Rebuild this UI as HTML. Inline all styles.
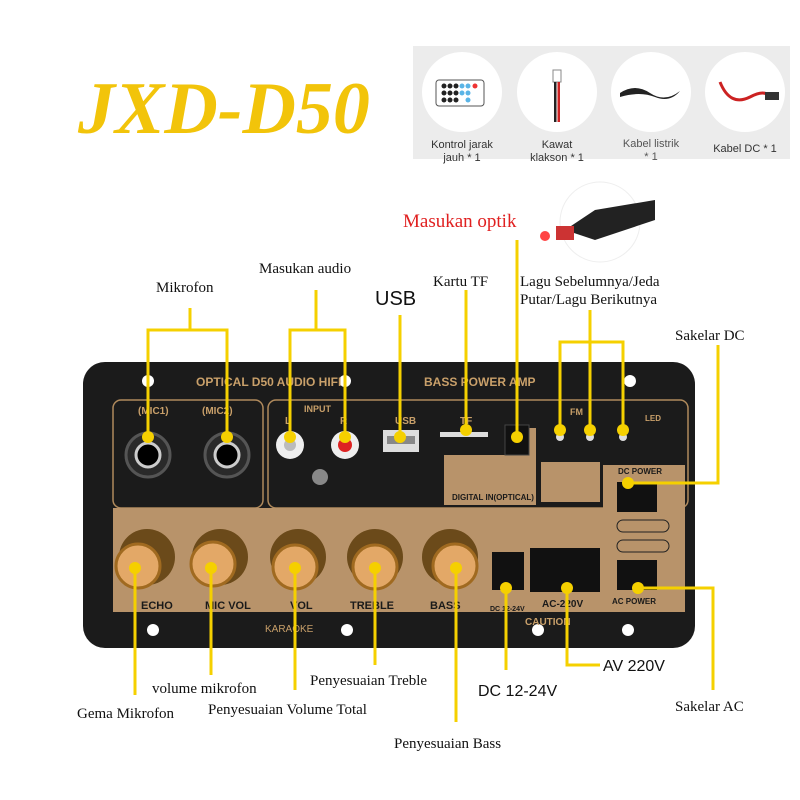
<!DOCTYPE html>
<html><head><meta charset="utf-8"><style>
body{margin:0;width:800px;height:800px;background:#fff;overflow:hidden;font-family:"Liberation Serif",serif}
svg{position:absolute;left:0;top:0}
</style></head><body>
<svg width="800" height="800" viewBox="0 0 800 800" xmlns="http://www.w3.org/2000/svg">
<text x="78" y="133" font-family="Liberation Serif" font-style="italic" font-weight="bold" font-size="74" fill="#f2c40a">JXD-D50</text>
<rect x="413" y="46" width="377" height="113" fill="#ececec"/>
<circle cx="462" cy="92" r="40" fill="#fff"/><circle cx="557" cy="92" r="40" fill="#fff"/><circle cx="651" cy="92" r="40" fill="#fff"/><circle cx="745" cy="92" r="40" fill="#fff"/>
<rect x="436" y="80" width="48" height="26" rx="3" fill="#fff" stroke="#555"/>
<g fill="#222"><circle cx="444" cy="86" r="2.5"/><circle cx="450" cy="86" r="2.5"/><circle cx="456" cy="86" r="2.5"/><circle cx="444" cy="93" r="2.5"/><circle cx="450" cy="93" r="2.5"/><circle cx="456" cy="93" r="2.5"/><circle cx="444" cy="100" r="2.5"/><circle cx="450" cy="100" r="2.5"/><circle cx="456" cy="100" r="2.5"/></g>
<g fill="#5ab4e6"><circle cx="462" cy="86" r="2.5"/><circle cx="468" cy="86" r="2.5"/><circle cx="462" cy="93" r="2.5"/><circle cx="468" cy="93" r="2.5"/><circle cx="468" cy="100" r="2.5"/></g>
<g fill="#e33"><circle cx="475" cy="86" r="2.5"/></g>
<rect x="553" y="70" width="8" height="12" fill="#fff" stroke="#888"/><rect x="554" y="82" width="2.5" height="40" fill="#222"/><rect x="557.5" y="82" width="2.5" height="40" fill="#c22"/>
<path d="M620 93 q15 -10 30 0 q15 10 30 -2 q-10 12 -25 6 q-15 -6 -35 0z" fill="#222"/>
<path d="M720 82 q10 25 30 15 q15 -8 20 0" stroke="#c22" stroke-width="3" fill="none"/><rect x="765" y="92" width="14" height="8" fill="#333"/>
<g font-family="Liberation Sans" font-size="11" fill="#333" text-anchor="middle">
<text x="462" y="148">Kontrol jarak</text><text x="462" y="161">jauh * 1</text>
<text x="557" y="148">Kawat</text><text x="557" y="161">klakson * 1</text>
<text x="651" y="147" fill="#555">Kabel listrik</text><text x="651" y="160" fill="#555">* 1</text>
<text x="745" y="152">Kabel DC * 1</text></g>
<circle cx="600" cy="222" r="40" fill="#fff" stroke="#eee"/>
<path d="M565 230 l30 -20 l60 -10 l0 20 l-60 20z" fill="#222"/>
<rect x="556" y="226" width="18" height="14" fill="#c33"/>
<circle cx="545" cy="236" r="5" fill="#f44"/>
<text x="403" y="227" font-size="19" fill="#e02020">Masukan optik</text>
<rect x="83" y="362" width="612" height="286" rx="22" fill="#1b1b1b"/>
<rect x="113" y="400" width="150" height="108" rx="8" fill="#1b1b1b" stroke="#b08a5c" stroke-width="1.5"/>
<rect x="268" y="400" width="420" height="108" rx="8" fill="#1b1b1b" stroke="#b08a5c" stroke-width="1.5"/>
<path d="M113 508 H487 V612 H113Z" fill="#b8936a"/>
<path d="M487 508 H603 V465 H685 V612 H487Z" fill="#b8936a"/>
<path d="M444 455 H515 V428 H536 V505 H444Z" fill="#b8936a"/>
<rect x="541" y="462" width="59" height="40" fill="#b8936a"/>
<g fill="#fff"><circle cx="148" cy="381" r="6"/><circle cx="345" cy="381" r="6"/><circle cx="630" cy="381" r="6"/><circle cx="153" cy="630" r="6"/><circle cx="347" cy="630" r="6"/><circle cx="538" cy="630" r="6"/><circle cx="628" cy="630" r="6"/></g>
<g font-family="Liberation Sans" font-weight="bold" fill="#c9a06a" font-size="12">
<text x="196" y="386">OPTICAL D50 AUDIO HIFI</text><text x="424" y="386">BASS POWER AMP</text>
<text x="138" y="414" font-size="10">(MIC1)</text><text x="202" y="414" font-size="10">(MIC2)</text>
<text x="304" y="412" font-size="9">INPUT</text><text x="285" y="424" font-size="10">L</text><text x="340" y="424" font-size="10">R</text>
<text x="395" y="424" font-size="10">USB</text><text x="460" y="424" font-size="10">TF</text>
<text x="570" y="415" font-size="9">FM</text><text x="645" y="421" font-size="8">LED</text></g>
<g font-family="Liberation Sans" font-weight="bold" fill="#1a1a1a" font-size="11">
<text x="141" y="609">ECHO</text><text x="205" y="609">MIC VOL</text><text x="290" y="609">VOL</text><text x="350" y="609">TREBLE</text><text x="430" y="609">BASS</text>
<text x="542" y="607" font-size="10">AC-220V</text><text x="612" y="604" font-size="8">AC POWER</text><text x="618" y="474" font-size="8">DC POWER</text>
<text x="452" y="500" font-size="8">DIGITAL IN(OPTICAL)</text><text x="490" y="611" font-size="7">DC 12-24V</text>
<text x="525" y="625" font-size="10" fill="#c9a06a">CAUTION</text></g>
<text x="265" y="632" font-family="Liberation Sans" font-size="10" fill="#c9a06a">KARAOKE</text>
<circle cx="148" cy="455" r="22" fill="#2a2a2a" stroke="#555" stroke-width="3"/><circle cx="148" cy="455" r="12" fill="#000" stroke="#ccc" stroke-width="3"/>
<circle cx="227" cy="455" r="22" fill="#2a2a2a" stroke="#555" stroke-width="3"/><circle cx="227" cy="455" r="12" fill="#000" stroke="#ccc" stroke-width="3"/>
<circle cx="290" cy="445" r="14" fill="#eee"/><circle cx="290" cy="445" r="6" fill="#bbb"/>
<circle cx="345" cy="445" r="14" fill="#eee"/><circle cx="345" cy="445" r="7" fill="#d22"/>
<circle cx="320" cy="477" r="8" fill="#888"/>
<rect x="383" y="430" width="36" height="22" fill="#ddd"/><rect x="387" y="436" width="28" height="8" fill="#888"/>
<rect x="440" y="432" width="48" height="5" fill="#ddd"/>
<rect x="505" y="425" width="24" height="30" fill="#111" stroke="#444"/>
<rect x="617" y="482" width="40" height="30" fill="#111"/><rect x="617" y="560" width="40" height="30" fill="#111"/>
<rect x="492" y="552" width="32" height="38" fill="#111"/><rect x="530" y="548" width="70" height="44" fill="#111"/>
<rect x="617" y="520" width="52" height="12" rx="6" fill="none" stroke="#222"/><rect x="617" y="540" width="52" height="12" rx="6" fill="none" stroke="#222"/>
<g fill="#ddd"><circle cx="560" cy="437" r="4"/><circle cx="590" cy="437" r="4"/><circle cx="623" cy="437" r="4"/></g>
<g>
<circle cx="147" cy="557" r="28" fill="#6b4a1a"/><circle cx="138" cy="566" r="22" fill="#e3a867" stroke="#a06a20" stroke-width="3"/>
<circle cx="220" cy="557" r="28" fill="#6b4a1a"/><circle cx="213" cy="564" r="22" fill="#e3a867" stroke="#a06a20" stroke-width="3"/>
<circle cx="298" cy="557" r="28" fill="#6b4a1a"/><circle cx="295" cy="567" r="22" fill="#e3a867" stroke="#a06a20" stroke-width="3"/>
<circle cx="375" cy="557" r="28" fill="#6b4a1a"/><circle cx="375" cy="567" r="22" fill="#e3a867" stroke="#a06a20" stroke-width="3"/>
<circle cx="450" cy="557" r="28" fill="#6b4a1a"/><circle cx="455" cy="566" r="22" fill="#e3a867" stroke="#a06a20" stroke-width="3"/>
</g>
<g stroke="#f5d000" stroke-width="3" fill="none">
<path d="M190 308V330M148 437V330H227V437"/>
<path d="M316 290V330M290 437V330H345V437"/>
<path d="M400 315V437"/><path d="M466 290V430"/><path d="M517 240V437"/>
<path d="M590 310V342M560 430V342H623V430M590 342V430"/>
<path d="M718 345V483H628"/>
<path d="M638 588H713V690"/>
<path d="M135 568V695"/><path d="M211 568V675"/><path d="M295 568V690"/><path d="M375 568V665"/><path d="M456 568V722"/>
<path d="M506 588V670"/><path d="M567 588V665H600"/>
</g>
<g fill="#f5d000"><circle cx="148" cy="437" r="6"/><circle cx="227" cy="437" r="6"/><circle cx="290" cy="437" r="6"/><circle cx="345" cy="437" r="6"/><circle cx="400" cy="437" r="6"/><circle cx="466" cy="430" r="6"/><circle cx="517" cy="437" r="6"/><circle cx="560" cy="430" r="6"/><circle cx="590" cy="430" r="6"/><circle cx="623" cy="430" r="6"/><circle cx="628" cy="483" r="6"/><circle cx="638" cy="588" r="6"/>
<circle cx="135" cy="568" r="6"/><circle cx="211" cy="568" r="6"/><circle cx="295" cy="568" r="6"/><circle cx="375" cy="568" r="6"/><circle cx="456" cy="568" r="6"/><circle cx="506" cy="588" r="6"/><circle cx="567" cy="588" r="6"/></g>
<g font-size="15" fill="#111">
<text x="156" y="292">Mikrofon</text><text x="259" y="273">Masukan audio</text><text x="433" y="286">Kartu TF</text>
<text x="520" y="286">Lagu Sebelumnya/Jeda</text><text x="520" y="304">Putar/Lagu Berikutnya</text>
<text x="675" y="340">Sakelar DC</text><text x="675" y="711">Sakelar AC</text>
<text x="77" y="718">Gema Mikrofon</text><text x="152" y="693">volume mikrofon</text><text x="208" y="714">Penyesuaian Volume Total</text>
<text x="310" y="685">Penyesuaian Treble</text><text x="394" y="748">Penyesuaian Bass</text></g>
<g font-family="Liberation Sans" fill="#111">
<text x="375" y="305" font-size="20">USB</text>
<text x="478" y="696" font-size="16">DC 12-24V</text><text x="603" y="671" font-size="16">AV 220V</text></g>
</svg>
</body></html>
